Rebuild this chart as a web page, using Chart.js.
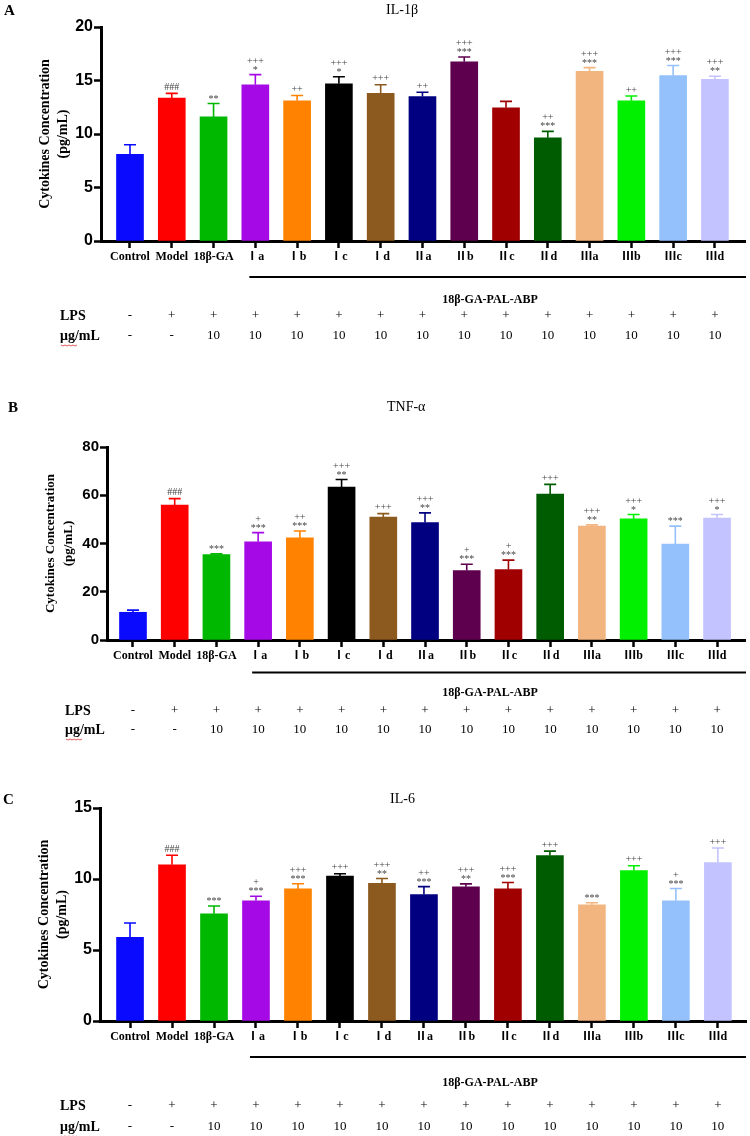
<!DOCTYPE html>
<html>
<head>
<meta charset="utf-8">
<script src="https://cdn.jsdelivr.net/npm/chart.js@4.4.1/dist/chart.umd.min.js"></script>
<style>
  html, body { margin: 0; padding: 0; background: #fff; }
  #wrap { position: relative; width: 750px; height: 1136px; overflow: hidden; }
  canvas { position: absolute; left: 0; }
</style>
</head>
<body>
<div id="wrap">
  <canvas id="chartA" width="750" height="380" style="top:0px"></canvas>
  <canvas id="chartB" width="750" height="400" style="top:380px"></canvas>
  <canvas id="chartC" width="750" height="356" style="top:780px"></canvas>
</div>
<script>
// groups on the x axis
const categories = ["Control", "Model", "18β-GA", "Ⅰa", "Ⅰb", "Ⅰc", "Ⅰd", "Ⅱa", "Ⅱb", "Ⅱc", "Ⅱd", "Ⅲa", "Ⅲb", "Ⅲc", "Ⅲd"];
const barColors = ["#0a0aff", "#ff0000", "#00b800", "#a50ae6", "#ff8200", "#000000", "#8c5a1e", "#000080",
  "#5e004e", "#a00000", "#005c00", "#f2b57f", "#00f000", "#94c1fb", "#c3c3ff"];
const lpsRow = ["-", "+", "+", "+", "+", "+", "+", "+", "+", "+", "+", "+", "+", "+", "+"];
const doseRow = ["-", "-", "10", "10", "10", "10", "10", "10", "10", "10", "10", "10", "10", "10", "10"];
const groupLabel = "18β-GA-PAL-ABP";
const yTitle = ["Cytokines Concentration", "(pg/mL)"];

// IL-1β (mean, SD)
const il1bValues = [8.1, 13.35, 11.6, 14.6, 13.1, 14.7, 13.8, 13.5, 16.75, 12.45, 9.65, 15.85, 13.1, 15.45, 15.1];
const il1bErrors = [0.9, 0.45, 1.25, 0.95, 0.5, 0.65, 0.8, 0.4, 0.45, 0.6, 0.6, 0.35, 0.45, 0.95, 0.3];
const il1bMarks = [[], ["###"], ["**"], ["+++", "*"], ["++"], ["+++", "*"], ["+++"], ["++"], ["+++", "***"], [],
  ["++", "***"], ["+++", "***"], ["++"], ["+++", "***"], ["+++", "**"]];

// TNF-α
const tnfValues = [11.5, 55.9, 35.4, 40.7, 42.3, 63.4, 51.0, 48.7, 28.8, 29.2, 60.5, 47.2, 50.2, 39.8, 50.5];
const tnfErrors = [0.9, 2.7, 0.3, 3.8, 2.9, 3.1, 1.4, 4.0, 2.6, 3.9, 4.0, 0.5, 1.8, 7.4, 1.5];
const tnfMarks = [[], ["###"], ["***"], ["+", "***"], ["++", "***"], ["+++", "**"], ["+++"], ["+++", "**"], ["+", "***"],
  ["+", "***"], ["+++"], ["+++", "**"], ["+++", "*"], ["***"], ["+++", "*"]];

// IL-6
const il6Values = [5.9, 11.0, 7.55, 8.47, 9.3, 10.2, 9.7, 8.9, 9.45, 9.3, 11.65, 8.18, 10.6, 8.47, 11.15];
const il6Errors = [1.0, 0.67, 0.55, 0.32, 0.37, 0.17, 0.34, 0.56, 0.21, 0.45, 0.31, 0.15, 0.33, 0.86, 1.03];
const il6Marks = [[], ["###"], ["***"], ["+", "***"], ["+++", "***"], ["+++"], ["+++", "**"], ["++", "***"], ["+++", "**"],
  ["+++", "***"], ["+++"], ["***"], ["+++"], ["+", "***"], ["+++"]];

const SERIF = "'Liberation Serif', 'Times New Roman', 'Noto Sans CJK SC', serif";
const SANS = "'Liberation Sans', Arial, sans-serif";

function overlay(p) {
  return {
    id: "overlay" + p.letter,
    afterDatasetsDraw(chart) {
      const ctx = chart.ctx;
      const xs = chart.scales.x, ys = chart.scales.y;
      ctx.save();
      // error bars
      p.values.forEach((v, i) => {
        const x = xs.getPixelForValue(i);
        const yb = ys.getPixelForValue(v);
        const yt = ys.getPixelForValue(v + p.errors[i]);
        ctx.strokeStyle = barColors[i];
        ctx.lineWidth = 1.6;
        ctx.beginPath();
        ctx.moveTo(x, yb);
        ctx.lineTo(x, yt);
        ctx.moveTo(x - 6, yt);
        ctx.lineTo(x + 6, yt);
        ctx.stroke();
        // significance marks
        ctx.fillStyle = "#444";
        ctx.font = "10px " + SERIF;
        ctx.textAlign = "center";
        ctx.textBaseline = "middle";
        const m = p.marks[i];
        m.forEach((s, k) => {
          const fromBottom = m.length - 1 - k;
          let y = yt - 6 - fromBottom * 7.5;
          if (s[0] === "*") y += 1.5;
          ctx.fillText(s, x, y);
        });
      });
      ctx.restore();
    },
    afterDraw(chart) {
      const ctx = chart.ctx;
      const xs = chart.scales.x;
      const area = chart.chartArea;
      ctx.save();
      ctx.fillStyle = "#000";
      // panel letter and title
      ctx.textBaseline = "middle";
      ctx.textAlign = "left";
      ctx.font = "bold 15px " + SERIF;
      ctx.fillText(p.letter, p.letterX, p.letterY);
      ctx.font = "14px " + SERIF;
      ctx.fillText(p.title, p.titleX, p.titleY);
      // y title
      ctx.save();
      ctx.translate(area.left - 56, (area.top + area.bottom) / 2);
      ctx.rotate(-Math.PI / 2);
      ctx.textAlign = "center";
      ctx.font = "bold " + p.yTitleSize + "px " + SERIF;
      ctx.fillText(yTitle[0], 0, 0);
      ctx.fillText(yTitle[1], 0, 18);
      ctx.restore();
      // group line + label
      ctx.strokeStyle = "#000";
      ctx.lineWidth = 2;
      ctx.beginPath();
      ctx.moveTo(xs.getPixelForValue(3) - 6, p.rows.line);
      ctx.lineTo(746, p.rows.line);
      ctx.stroke();
      ctx.textAlign = "center";
      ctx.font = "bold 12px " + SERIF;
      ctx.fillText(groupLabel, 490, p.rows.group);
      // LPS / dose rows
      ctx.textAlign = "left";
      ctx.font = "bold 14px " + SERIF;
      ctx.fillText("LPS", p.rowLabelX, p.rows.lps);
      ctx.fillText("μg/mL", p.rowLabelX, p.rows.dose);
      // spell-check squiggle under μg
      ctx.strokeStyle = "#e03030";
      ctx.lineWidth = 0.8;
      ctx.beginPath();
      for (let k = 0; k <= 8; k++) {
        const xx = p.rowLabelX + 1 + k * 2;
        const yy = p.rows.dose + 9 + (k % 2 ? 1 : 0);
        if (k === 0) ctx.moveTo(xx, yy); else ctx.lineTo(xx, yy);
      }
      ctx.stroke();
      ctx.textAlign = "center";
      ctx.font = "13px " + SERIF;
      categories.forEach((c, i) => {
        const x = xs.getPixelForValue(i);
        ctx.fillText(lpsRow[i], x, p.rows.lps);
        ctx.fillText(doseRow[i], x, p.rows.dose);
      });
      ctx.restore();
    }
  };
}

function makePanel(id, p) {
  const H = document.getElementById(id).height;
  return new Chart(document.getElementById(id), {
    type: "bar",
    data: {
      datasets: [{
        data: p.values.map((v, i) => ({ x: i, y: v })),
        backgroundColor: barColors,
        borderWidth: 0,
        barThickness: 27
      }]
    },
    options: {
      responsive: false,
      animation: false,
      devicePixelRatio: 1,
      layout: { padding: { left: 0, top: p.area.top, right: 750 - p.area.right, bottom: 0 } },
      plugins: { legend: { display: false }, tooltip: { enabled: false } },
      scales: {
        x: {
          type: "linear",
          min: p.xMin,
          max: p.xMax,
          bounds: "data",
          offset: false,
          afterBuildTicks: (s) => { s.ticks = categories.map((c, i) => ({ value: i })); },
          afterFit: (s) => { s.height = H - p.area.bottom; },
          grid: { offset: false, drawOnChartArea: false, drawTicks: true, tickLength: 7, tickWidth: 2.5, tickColor: "#000" },
          border: { display: true, color: "#000", width: 3 },
          ticks: {
            autoSkip: false, maxRotation: 0, minRotation: 0, padding: 2, color: "#000",
            font: { family: SERIF, size: 12, weight: "bold" },
            callback: (v) => categories[v]
          }
        },
        y: {
          min: 0,
          max: p.yMax,
          afterFit: (s) => { s.width = p.area.left; },
          grid: { drawOnChartArea: false, drawTicks: true, tickLength: 7, tickWidth: 2.5, tickColor: "#000" },
          border: { display: true, color: "#000", width: 3 },
          ticks: {
            stepSize: p.yStep, padding: 1, color: "#000",
            font: { family: SANS, size: p.tickSize, weight: "bold" }
          }
        }
      }
    },
    plugins: [overlay(p)]
  });
}

makePanel("chartA", {
  letter: "A", title: "IL-1β", letterX: 4, letterY: 11, titleX: 386, titleY: 10,
  values: il1bValues, errors: il1bErrors, marks: il1bMarks,
  yMax: 20, yStep: 5, tickSize: 16, yTitleSize: 14,
  area: { left: 101, top: 27, right: 745, bottom: 241 },
  xMin: -0.694, xMax: 14.72,
  rows: { line: 277, group: 300, lps: 316, dose: 336 }, rowLabelX: 60
});

makePanel("chartB", {
  letter: "B", title: "TNF-α", letterX: 8, letterY: 28, titleX: 387, titleY: 27,
  values: tnfValues, errors: tnfErrors, marks: tnfMarks,
  yMax: 80, yStep: 20, tickSize: 15, yTitleSize: 13,
  area: { left: 107, top: 67, right: 745, bottom: 260 },
  xMin: -0.623, xMax: 14.67,
  rows: { line: 292.5, group: 313, lps: 331, dose: 350 }, rowLabelX: 65
});

makePanel("chartC", {
  letter: "C", title: "IL-6", letterX: 3, letterY: 20, titleX: 390, titleY: 19,
  values: il6Values, errors: il6Errors, marks: il6Marks,
  yMax: 15, yStep: 5, tickSize: 16, yTitleSize: 14,
  area: { left: 100, top: 28, right: 746, bottom: 241 },
  xMin: -0.715, xMax: 14.67,
  rows: { line: 277, group: 303, lps: 326, dose: 347 }, rowLabelX: 60
});
</script>
</body>
</html>
